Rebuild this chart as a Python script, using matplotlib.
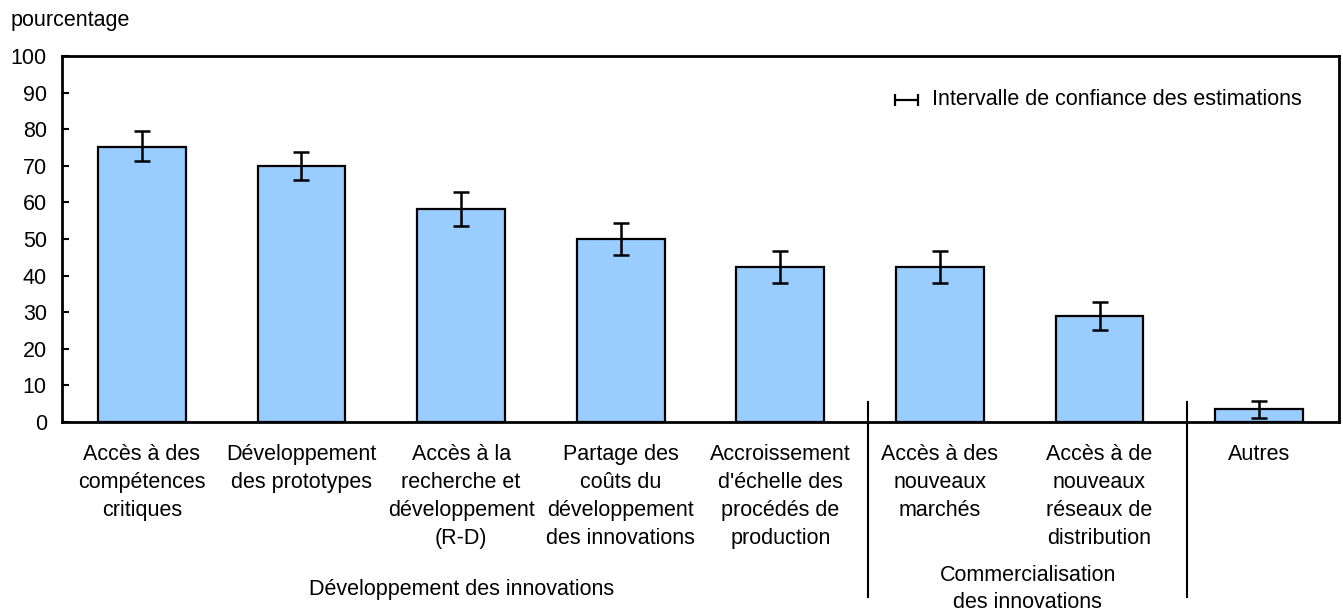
import matplotlib
matplotlib.use("Agg")
import matplotlib.pyplot as plt
from matplotlib.transforms import blended_transform_factory

plt.rcParams['font.family'] = ['Liberation Sans', 'DejaVu Sans']

categories = [
    "Accès à des\ncompétences\ncritiques",
    "Développement\ndes prototypes",
    "Accès à la\nrecherche et\ndéveloppement\n(R-D)",
    "Partage des\ncoûts du\ndéveloppement\ndes innovations",
    "Accroissement\nd'échelle des\nprocédés de\nproduction",
    "Accès à des\nnouveaux\nmarchés",
    "Accès à de\nnouveaux\nréseaux de\ndistribution",
    "Autres",
]
values = [75.1, 69.9, 58.2, 50.0, 42.3, 42.3, 29.0, 3.5]
ci_low = [71.3, 66.1, 53.6, 45.6, 38.0, 38.0, 25.1, 1.1]
ci_high = [79.5, 73.8, 62.8, 54.4, 46.7, 46.7, 32.8, 5.7]
yticks = list(range(0, 101, 10))
group_labels = ["Développement des innovations", "Commercialisation\ndes innovations"]

FS = 15.5

fig = plt.figure(figsize=(13.43, 6.12), dpi=100)
ax = fig.add_axes([0.0462, 0.3105, 0.9508, 0.598])

x = list(range(len(values)))
err = [[v - l for v, l in zip(values, ci_low)], [h - v for v, h in zip(values, ci_high)]]
ax.bar(x, values, width=0.55, color="#99CCFF", edgecolor="black", linewidth=1.6, zorder=2)
ax.errorbar(x, values, yerr=err, fmt="none", ecolor="black", elinewidth=1.8,
            capsize=6, capthick=1.8, zorder=3)

ax.set_xlim(-0.5, 7.5)
ax.set_ylim(0, 100)
ax.set_yticks(yticks)
ax.tick_params(axis="y", direction="in", length=5, width=1.5, labelsize=FS, pad=11)
ax.set_xticks(x)
ax.set_xticklabels(categories, fontsize=FS, linespacing=1.43, va="top")
ax.tick_params(axis="x", length=0, pad=16)
for s in ax.spines.values():
    s.set_linewidth(2)

fig.text(0.0075, 0.966, "pourcentage", fontsize=FS, ha="left", va="center")

# legend
ax.errorbar([4.79], [88.0], xerr=[[0.072], [0.072]], fmt="none", ecolor="black",
            elinewidth=1.6, capsize=4, capthick=1.6)
ax.text(4.95, 88.0, "Intervalle de confiance des estimations", fontsize=FS, va="center", ha="left")

# separators and group labels
tr = blended_transform_factory(ax.transData, fig.transFigure)
for xs in [4.55, 6.55]:
    ax.plot([xs, xs], [1 - 402 / 612, 1 - 597 / 612], color="black", lw=1.5,
            transform=tr, clip_on=False)
ax.text(2.0, 1 - 590 / 612, group_labels[0], fontsize=FS, ha="center", va="center", transform=tr)
ax.text(5.55, 1 - 589 / 612, group_labels[1], fontsize=FS, ha="center", va="center",
        transform=tr, linespacing=1.43)

fig.savefig("out.png", dpi=100)
